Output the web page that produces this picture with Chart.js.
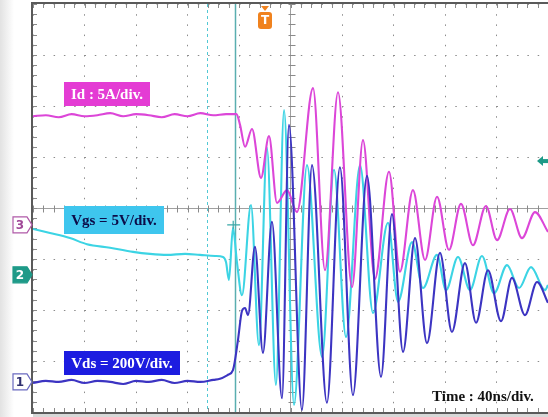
<!DOCTYPE html>
<html><head><meta charset="utf-8">
<script src="https://cdn.jsdelivr.net/npm/chart.js@4.4.1/dist/chart.umd.min.js"></script>
<style>html,body{margin:0;padding:0;background:#fff;overflow:hidden}#wrap{width:548px;height:417px;position:relative}</style>
</head><body><div id="wrap"><canvas id="c" width="548" height="417"></canvas></div>
<script>
// time axis: ns relative to screen centre (40 ns/div, 10 div); values in screen divisions (8 div)
const timeId = [-200,-190,-180,-170,-160,-150,-140,-130,-120,-110,-100,-90,-80,-70,-60,-50,-42,
  -39.2,-35.3,-29.9,-22.9,-16.7,-10.5,-2.7,5.0,17.5,26.8,36.9,47.8,56.3,65.6,76.5,85.0,95.1,104.5,
  113.8,123.1,132.4,141.7,151.8,160.4,170.5,179.8,189.9,200];
const idDiv = [1.80,1.82,1.78,1.84,1.80,1.82,1.86,1.80,1.84,1.82,1.78,1.84,1.80,1.86,1.82,1.84,1.84,
  1.63,1.20,1.55,0.59,1.41,0.10,0.35,-0.08,2.35,-1.22,2.27,-1.55,1.33,-1.39,0.71,-1.25,0.35,-1.02,
  0.22,-0.82,0.08,-0.73,0.04,-0.63,-0.02,-0.59,-0.08,-0.47];

const timeVgs = [-200,-186.8,-171.3,-158.1,-140.2,-122.3,-109.1,-95.9,-81.9,-70.3,-58.6,-52.4,-50.1,
  -47.8,-44.7,-41.6,-37.7,-30.7,-24.5,-18.3,-11.3,-5.0,2.7,12.8,24.5,33.8,43.1,54.0,64.1,75.7,83.5,
  94.4,102.9,113.8,120.8,130.1,139.4,148.7,158.1,168.2,177.5,186.8,197.7,200];
const vgsDiv = [-0.41,-0.49,-0.59,-0.71,-0.78,-0.86,-0.90,-0.92,-0.90,-0.92,-0.94,-0.96,-1.06,
  -1.41,-0.39,-1.06,-1.71,0.06,-2.69,1.18,-3.47,1.92,-3.86,0.84,-2.92,0.75,-2.53,0.84,-2.06,-0.29,-1.84,
  -0.67,-1.57,-0.92,-1.61,-0.96,-1.61,-0.94,-1.67,-1.12,-1.57,-1.16,-1.61,-1.51];

const timeVds = [-200,-190,-180,-170,-160,-150,-140,-130,-120,-110,-100,-90,-80,-70,-60,
  -54.8,-48.5,-44.7,-40.8,-37.7,-35.3,-33.0,-27.6,-21.4,-14.4,-6.6,-1.2,8.9,16.7,28.3,38.4,48.5,59.4,
  70.3,78.8,87.4,96.7,106.0,116.1,125.4,135.5,144.1,153.4,163.5,172.0,182.1,191.5,200];
const vdsDiv = [-3.43,-3.39,-3.41,-3.37,-3.43,-3.39,-3.41,-3.45,-3.39,-3.41,-3.37,-3.43,-3.39,-3.41,-3.37,
  -3.35,-3.27,-3.18,-2.59,-2.02,-1.96,-2.10,-0.76,-2.84,-0.27,-3.73,1.63,-3.96,0.84,-3.82,0.80,-3.67,0.63,
  -3.31,-0.12,-2.82,-0.59,-2.65,-0.88,-2.43,-1.08,-2.25,-1.22,-2.22,-1.37,-2.10,-1.45,-1.86];

const labelId = 'Id : 5A/div.';
const labelVgs = 'Vgs = 5V/div.';
const labelVds = 'Vds = 200V/div.';
const labelTime = 'Time : 40ns/div.';

const pts = (xs, ys) => xs.map((x, i) => ({x: x, y: ys[i]}));

const deco = {
  id: 'deco',
  beforeDraw(chart) {
    const {ctx} = chart;
    ctx.save();
    ctx.fillStyle = '#ffffff';
    ctx.fillRect(0, 0, chart.width, chart.height);
    const g = ctx.createLinearGradient(0, 0, 14, 0);
    g.addColorStop(0, '#e2e2e2'); g.addColorStop(1, '#ffffff');
    ctx.fillStyle = g; ctx.fillRect(0, 0, 14, chart.height);
    ctx.restore();
  },
  beforeDatasetsDraw(chart) {
    const {ctx, chartArea: a, scales: {x, y}} = chart;
    ctx.save();
    ctx.strokeStyle = '#8a8a8a'; ctx.lineWidth = 1;
    const x0 = Math.round(x.getPixelForValue(0)) + 0.5;
    const y0 = Math.round(y.getPixelForValue(0)) + 0.5;
    ctx.beginPath();
    for (let v = -4; v <= 4.001; v += 0.2) {
      const py = Math.round(y.getPixelForValue(v)) + 0.5;
      ctx.moveTo(x0 - 3, py); ctx.lineTo(x0 + 4, py);
      ctx.moveTo(a.left, py); ctx.lineTo(a.left + 4, py);
    }
    for (let t = -200; t <= 200.001; t += 8) {
      const px = Math.round(x.getPixelForValue(t)) + 0.5;
      ctx.moveTo(px, y0 - 3); ctx.lineTo(px, y0 + 4);
      ctx.moveTo(px, a.top); ctx.lineTo(px, a.top + 4);
      ctx.moveTo(px, a.bottom - 4); ctx.lineTo(px, a.bottom);
    }
    ctx.stroke();
    // cursors
    const xc1 = Math.round(x.getPixelForValue(-64.9)) + 0.5;
    ctx.strokeStyle = '#52c8d4'; ctx.setLineDash([3, 3]);
    ctx.beginPath(); ctx.moveTo(xc1, a.top); ctx.lineTo(xc1, a.bottom); ctx.stroke();
    ctx.setLineDash([]);
    const xc2 = Math.round(x.getPixelForValue(-43.1)) + 0.5;
    ctx.strokeStyle = '#5aaeb0'; ctx.lineWidth = 1.5;
    ctx.beginPath(); ctx.moveTo(xc2, a.top); ctx.lineTo(xc2, a.bottom); ctx.stroke();
    ctx.restore();
  },
  afterDraw(chart) {
    const {ctx, chartArea: a, scales: {x, y}} = chart;
    ctx.save();
    // frame
    ctx.strokeStyle = '#5a5a5a'; ctx.lineWidth = 2;
    ctx.beginPath();
    ctx.moveTo(a.right, a.top - 1); ctx.lineTo(a.left - 1, a.top - 1);
    ctx.lineTo(a.left - 1, a.bottom + 1); ctx.lineTo(a.right, a.bottom + 1);
    ctx.stroke();
    ctx.fillStyle = '#d8d8d8'; ctx.fillRect(a.left, a.bottom + 2, a.right - a.left, 3);

    // label boxes
    ctx.textBaseline = 'middle';
    ctx.font = 'bold 15px "Liberation Serif", serif';
    const box = (x1, y1, w, h, bg, fg, txt) => {
      ctx.fillStyle = bg; ctx.fillRect(x1, y1, w, h);
      ctx.fillStyle = fg; ctx.textAlign = 'center';
      ctx.fillText(txt, x1 + w / 2, y1 + h / 2 + 1);
    };
    box(64, 82, 86, 24, '#e43cd4', '#ffffff', labelId);
    box(64, 206, 100, 28, '#3ec6ee', '#0c0c48', labelVgs);
    box(64, 351, 116, 24, '#1c1ce0', '#ffffff', labelVds);
    ctx.fillStyle = '#111111'; ctx.textAlign = 'left';
    ctx.font = 'bold 15px "Liberation Serif", serif';
    ctx.fillText(labelTime, 432, 397);

    // channel markers
    const marker = (cy, txt, stroke, fill, fg) => {
      ctx.beginPath();
      ctx.moveTo(13, cy - 8); ctx.lineTo(27, cy - 8); ctx.lineTo(32, cy);
      ctx.lineTo(27, cy + 8); ctx.lineTo(13, cy + 8); ctx.closePath();
      ctx.fillStyle = fill; ctx.fill();
      ctx.strokeStyle = stroke; ctx.lineWidth = 1.2; ctx.stroke();
      ctx.fillStyle = fg; ctx.textAlign = 'center';
      ctx.font = 'bold 12px "DejaVu Sans", sans-serif';
      ctx.fillText(txt, 20, cy + 1);
    };
    marker(y.getPixelForValue(-0.33), '3', '#b05aa8', '#ffffff', '#a04898');
    marker(y.getPixelForValue(-1.31), '2', '#1e9a88', '#1e9a88', '#ffffff');
    marker(y.getPixelForValue(-3.41), '1', '#6a6ac0', '#ffffff', '#303070');

    // trigger marker
    const tx = x.getPixelForValue(-19.8);
    ctx.fillStyle = '#f0821e';
    ctx.beginPath(); ctx.moveTo(tx - 4, a.top + 2); ctx.lineTo(tx + 4, a.top + 2); ctx.lineTo(tx, a.top + 7); ctx.closePath(); ctx.fill();
    ctx.beginPath();
    ctx.roundRect ? ctx.roundRect(tx - 7, a.top + 8, 14, 17, 3) : ctx.rect(tx - 7, a.top + 8, 14, 17);
    ctx.fill();
    ctx.fillStyle = '#ffffff'; ctx.font = 'bold 12px "DejaVu Sans", sans-serif';
    ctx.fillText('T', tx, a.top + 17);

    // trigger level arrow at right
    const ty = y.getPixelForValue(0.92);
    ctx.fillStyle = '#1e9a88';
    ctx.beginPath(); ctx.moveTo(a.right - 11, ty); ctx.lineTo(a.right - 5, ty - 5); ctx.lineTo(a.right - 5, ty + 5); ctx.closePath(); ctx.fill();
    ctx.fillRect(a.right - 6, ty - 2, 6, 4);

    // vgs cursor cross
    const cx = x.getPixelForValue(-44.5), cy = y.getPixelForValue(-0.33);
    ctx.strokeStyle = '#3aa8a8'; ctx.lineWidth = 1.2;
    ctx.beginPath(); ctx.moveTo(cx - 6, cy); ctx.lineTo(cx + 7, cy); ctx.moveTo(cx, cy - 4); ctx.lineTo(cx, cy + 4); ctx.stroke();
    ctx.restore();
  }
};

const common = {borderWidth: 2.1, pointRadius: 0, cubicInterpolationMode: 'monotone', fill: false};

new Chart(document.getElementById('c'), {
  type: 'line',
  data: {
    datasets: [
      Object.assign({label: 'Vds', data: pts(timeVds, vdsDiv), borderColor: '#3c34c2'}, common),
      Object.assign({label: 'Id', data: pts(timeId, idDiv), borderColor: '#dc46d8'}, common),
      Object.assign({label: 'Vgs', data: pts(timeVgs, vgsDiv), borderColor: '#3cd4e4'}, common)
    ]
  },
  options: {
    responsive: false,
    animation: false,
    devicePixelRatio: 1,
    layout: {padding: {left: 33, top: 4, right: 0, bottom: 5}},
    plugins: {legend: {display: false}, tooltip: {enabled: false}},
    scales: {
      x: {
        type: 'linear', min: -200, max: 200,
        ticks: {display: false, stepSize: 40},
        grid: {drawTicks: false, color: c => c.tick.value === 0 ? '#a0a0a0' : '#8c8c8c', lineWidth: 1},
        border: {display: false, dash: c => c.tick && c.tick.value === 0 ? [] : [1.5, 8.7], dashOffset: 0}
      },
      y: {
        type: 'linear', min: -4, max: 4,
        ticks: {display: false, stepSize: 1},
        grid: {drawTicks: false, color: c => c.tick.value === 0 ? '#a0a0a0' : '#8c8c8c', lineWidth: 1},
        border: {display: false, dash: c => c.tick && c.tick.value === 0 ? [] : [1.5, 8.8], dashOffset: 0}
      }
    }
  },
  plugins: [deco]
});
</script>
</body></html>
